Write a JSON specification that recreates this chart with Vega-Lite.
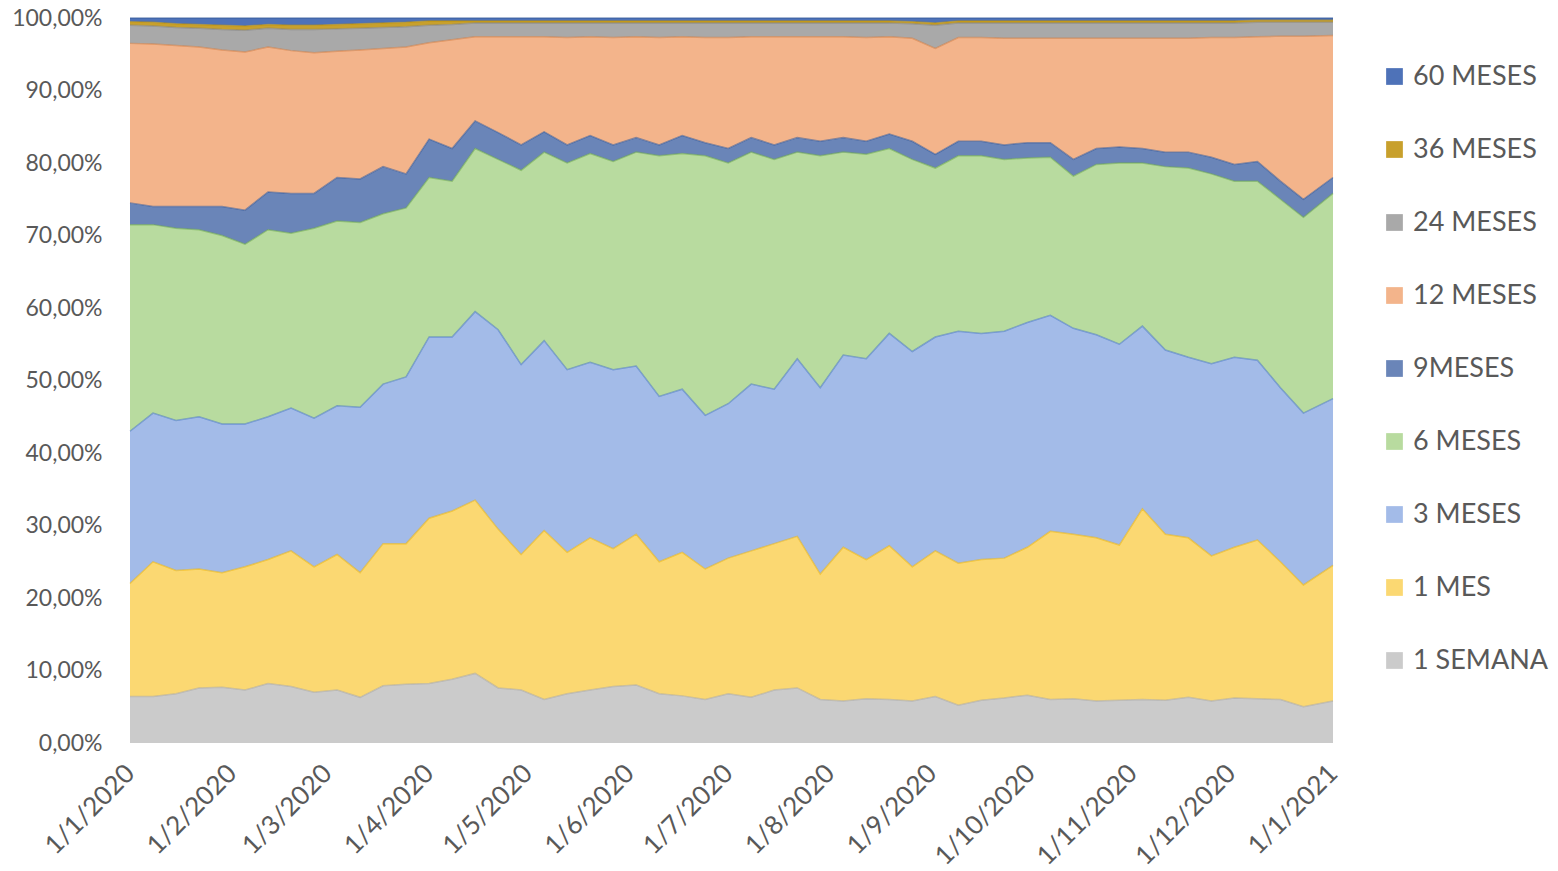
{
  "$schema": "https://vega.github.io/schema/vega-lite/v6.json",
  "width": 1203,
  "height": 725,
  "autosize": "none",
  "padding": {"left": 130, "top": 18, "right": 225, "bottom": 128},
  "background": "white",
  "config": {
    "view": {"stroke": null},
    "font": "Lato"
  },
  "data": {
    "values": [
      {"fecha": "2020-01-01", "1 SEMANA": 6.4, "1 MES": 15.6, "3 MESES": 21.0, "6 MESES": 28.5, "9MESES": 3.0, "12 MESES": 22.0, "24 MESES": 2.5, "36 MESES": 0.5, "60 MESES": 0.5},
      {"fecha": "2020-01-08", "1 SEMANA": 6.4, "1 MES": 18.6, "3 MESES": 20.5, "6 MESES": 26.0, "9MESES": 2.5, "12 MESES": 22.4, "24 MESES": 2.5, "36 MESES": 0.5, "60 MESES": 0.6},
      {"fecha": "2020-01-15", "1 SEMANA": 6.8, "1 MES": 17.0, "3 MESES": 20.7, "6 MESES": 26.5, "9MESES": 3.0, "12 MESES": 22.2, "24 MESES": 2.5, "36 MESES": 0.5, "60 MESES": 0.8},
      {"fecha": "2020-01-22", "1 SEMANA": 7.6, "1 MES": 16.4, "3 MESES": 21.0, "6 MESES": 25.8, "9MESES": 3.2, "12 MESES": 22.0, "24 MESES": 2.6, "36 MESES": 0.5, "60 MESES": 0.9},
      {"fecha": "2020-01-29", "1 SEMANA": 7.7, "1 MES": 15.8, "3 MESES": 20.5, "6 MESES": 26.0, "9MESES": 4.0, "12 MESES": 21.6, "24 MESES": 2.8, "36 MESES": 0.6, "60 MESES": 1.0},
      {"fecha": "2020-02-05", "1 SEMANA": 7.3, "1 MES": 17.0, "3 MESES": 19.7, "6 MESES": 24.8, "9MESES": 4.7, "12 MESES": 21.8, "24 MESES": 3.0, "36 MESES": 0.6, "60 MESES": 1.1},
      {"fecha": "2020-02-12", "1 SEMANA": 8.2, "1 MES": 17.1, "3 MESES": 19.7, "6 MESES": 25.8, "9MESES": 5.2, "12 MESES": 20.0, "24 MESES": 2.6, "36 MESES": 0.5, "60 MESES": 0.9},
      {"fecha": "2020-02-19", "1 SEMANA": 7.8, "1 MES": 18.7, "3 MESES": 19.7, "6 MESES": 24.1, "9MESES": 5.5, "12 MESES": 19.7, "24 MESES": 2.9, "36 MESES": 0.6, "60 MESES": 1.0},
      {"fecha": "2020-02-26", "1 SEMANA": 7.0, "1 MES": 17.3, "3 MESES": 20.5, "6 MESES": 26.2, "9MESES": 4.8, "12 MESES": 19.4, "24 MESES": 3.2, "36 MESES": 0.6, "60 MESES": 1.0},
      {"fecha": "2020-03-04", "1 SEMANA": 7.3, "1 MES": 18.7, "3 MESES": 20.5, "6 MESES": 25.5, "9MESES": 6.0, "12 MESES": 17.4, "24 MESES": 3.1, "36 MESES": 0.6, "60 MESES": 0.9},
      {"fecha": "2020-03-11", "1 SEMANA": 6.3, "1 MES": 17.2, "3 MESES": 22.8, "6 MESES": 25.5, "9MESES": 6.0, "12 MESES": 17.8, "24 MESES": 3.0, "36 MESES": 0.6, "60 MESES": 0.8},
      {"fecha": "2020-03-18", "1 SEMANA": 7.9, "1 MES": 19.6, "3 MESES": 22.0, "6 MESES": 23.5, "9MESES": 6.5, "12 MESES": 16.3, "24 MESES": 2.9, "36 MESES": 0.6, "60 MESES": 0.7},
      {"fecha": "2020-03-25", "1 SEMANA": 8.1, "1 MES": 19.4, "3 MESES": 23.0, "6 MESES": 23.3, "9MESES": 4.7, "12 MESES": 17.5, "24 MESES": 2.8, "36 MESES": 0.6, "60 MESES": 0.6},
      {"fecha": "2020-04-01", "1 SEMANA": 8.2, "1 MES": 22.8, "3 MESES": 25.0, "6 MESES": 22.0, "9MESES": 5.3, "12 MESES": 13.3, "24 MESES": 2.4, "36 MESES": 0.6, "60 MESES": 0.4},
      {"fecha": "2020-04-08", "1 SEMANA": 8.8, "1 MES": 23.2, "3 MESES": 24.0, "6 MESES": 21.5, "9MESES": 4.5, "12 MESES": 15.0, "24 MESES": 2.1, "36 MESES": 0.5, "60 MESES": 0.4},
      {"fecha": "2020-04-15", "1 SEMANA": 9.6, "1 MES": 23.9, "3 MESES": 26.0, "6 MESES": 22.5, "9MESES": 3.8, "12 MESES": 11.6, "24 MESES": 1.9, "36 MESES": 0.3, "60 MESES": 0.4},
      {"fecha": "2020-04-22", "1 SEMANA": 7.6, "1 MES": 21.9, "3 MESES": 27.5, "6 MESES": 23.5, "9MESES": 3.7, "12 MESES": 13.2, "24 MESES": 1.9, "36 MESES": 0.3, "60 MESES": 0.4},
      {"fecha": "2020-04-29", "1 SEMANA": 7.3, "1 MES": 18.7, "3 MESES": 26.2, "6 MESES": 26.8, "9MESES": 3.5, "12 MESES": 14.9, "24 MESES": 1.9, "36 MESES": 0.3, "60 MESES": 0.4},
      {"fecha": "2020-05-06", "1 SEMANA": 6.0, "1 MES": 23.3, "3 MESES": 26.2, "6 MESES": 26.0, "9MESES": 2.8, "12 MESES": 13.1, "24 MESES": 1.9, "36 MESES": 0.3, "60 MESES": 0.4},
      {"fecha": "2020-05-13", "1 SEMANA": 6.8, "1 MES": 19.5, "3 MESES": 25.2, "6 MESES": 28.5, "9MESES": 2.5, "12 MESES": 14.8, "24 MESES": 2.0, "36 MESES": 0.3, "60 MESES": 0.4},
      {"fecha": "2020-05-20", "1 SEMANA": 7.3, "1 MES": 21.0, "3 MESES": 24.2, "6 MESES": 28.8, "9MESES": 2.5, "12 MESES": 13.6, "24 MESES": 1.9, "36 MESES": 0.3, "60 MESES": 0.4},
      {"fecha": "2020-05-27", "1 SEMANA": 7.8, "1 MES": 19.0, "3 MESES": 24.7, "6 MESES": 28.7, "9MESES": 2.3, "12 MESES": 14.8, "24 MESES": 2.0, "36 MESES": 0.3, "60 MESES": 0.4},
      {"fecha": "2020-06-03", "1 SEMANA": 8.0, "1 MES": 20.8, "3 MESES": 23.2, "6 MESES": 29.5, "9MESES": 2.0, "12 MESES": 13.9, "24 MESES": 1.9, "36 MESES": 0.3, "60 MESES": 0.4},
      {"fecha": "2020-06-10", "1 SEMANA": 6.8, "1 MES": 18.2, "3 MESES": 22.8, "6 MESES": 33.2, "9MESES": 1.5, "12 MESES": 14.8, "24 MESES": 2.0, "36 MESES": 0.3, "60 MESES": 0.4},
      {"fecha": "2020-06-17", "1 SEMANA": 6.5, "1 MES": 19.8, "3 MESES": 22.5, "6 MESES": 32.5, "9MESES": 2.5, "12 MESES": 13.6, "24 MESES": 1.9, "36 MESES": 0.3, "60 MESES": 0.4},
      {"fecha": "2020-06-24", "1 SEMANA": 6.0, "1 MES": 18.0, "3 MESES": 21.2, "6 MESES": 35.8, "9MESES": 1.8, "12 MESES": 14.5, "24 MESES": 2.0, "36 MESES": 0.3, "60 MESES": 0.4},
      {"fecha": "2020-07-01", "1 SEMANA": 6.8, "1 MES": 18.7, "3 MESES": 21.3, "6 MESES": 33.2, "9MESES": 2.0, "12 MESES": 15.3, "24 MESES": 2.0, "36 MESES": 0.3, "60 MESES": 0.4},
      {"fecha": "2020-07-08", "1 SEMANA": 6.3, "1 MES": 20.2, "3 MESES": 23.0, "6 MESES": 32.0, "9MESES": 2.0, "12 MESES": 13.9, "24 MESES": 1.9, "36 MESES": 0.3, "60 MESES": 0.4},
      {"fecha": "2020-07-15", "1 SEMANA": 7.3, "1 MES": 20.2, "3 MESES": 21.3, "6 MESES": 31.7, "9MESES": 2.0, "12 MESES": 14.9, "24 MESES": 1.9, "36 MESES": 0.3, "60 MESES": 0.4},
      {"fecha": "2020-07-22", "1 SEMANA": 7.6, "1 MES": 20.9, "3 MESES": 24.5, "6 MESES": 28.5, "9MESES": 2.0, "12 MESES": 13.9, "24 MESES": 1.9, "36 MESES": 0.3, "60 MESES": 0.4},
      {"fecha": "2020-07-29", "1 SEMANA": 6.0, "1 MES": 17.3, "3 MESES": 25.7, "6 MESES": 32.0, "9MESES": 2.0, "12 MESES": 14.4, "24 MESES": 1.9, "36 MESES": 0.3, "60 MESES": 0.4},
      {"fecha": "2020-08-05", "1 SEMANA": 5.8, "1 MES": 21.2, "3 MESES": 26.5, "6 MESES": 28.0, "9MESES": 2.0, "12 MESES": 13.9, "24 MESES": 1.9, "36 MESES": 0.3, "60 MESES": 0.4},
      {"fecha": "2020-08-12", "1 SEMANA": 6.1, "1 MES": 19.2, "3 MESES": 27.7, "6 MESES": 28.2, "9MESES": 1.8, "12 MESES": 14.3, "24 MESES": 2.0, "36 MESES": 0.3, "60 MESES": 0.4},
      {"fecha": "2020-08-19", "1 SEMANA": 6.0, "1 MES": 21.2, "3 MESES": 29.3, "6 MESES": 25.5, "9MESES": 2.0, "12 MESES": 13.4, "24 MESES": 1.9, "36 MESES": 0.3, "60 MESES": 0.4},
      {"fecha": "2020-08-26", "1 SEMANA": 5.8, "1 MES": 18.5, "3 MESES": 29.7, "6 MESES": 26.5, "9MESES": 2.5, "12 MESES": 14.2, "24 MESES": 2.0, "36 MESES": 0.3, "60 MESES": 0.5},
      {"fecha": "2020-09-02", "1 SEMANA": 6.4, "1 MES": 20.1, "3 MESES": 29.5, "6 MESES": 23.3, "9MESES": 1.9, "12 MESES": 14.6, "24 MESES": 3.2, "36 MESES": 0.3, "60 MESES": 0.7},
      {"fecha": "2020-09-09", "1 SEMANA": 5.2, "1 MES": 19.6, "3 MESES": 32.0, "6 MESES": 24.2, "9MESES": 2.0, "12 MESES": 14.3, "24 MESES": 2.0, "36 MESES": 0.3, "60 MESES": 0.4},
      {"fecha": "2020-09-16", "1 SEMANA": 5.9, "1 MES": 19.4, "3 MESES": 31.2, "6 MESES": 24.5, "9MESES": 2.0, "12 MESES": 14.3, "24 MESES": 2.0, "36 MESES": 0.3, "60 MESES": 0.4},
      {"fecha": "2020-09-23", "1 SEMANA": 6.2, "1 MES": 19.3, "3 MESES": 31.3, "6 MESES": 23.7, "9MESES": 2.0, "12 MESES": 14.7, "24 MESES": 2.1, "36 MESES": 0.3, "60 MESES": 0.4},
      {"fecha": "2020-09-30", "1 SEMANA": 6.6, "1 MES": 20.4, "3 MESES": 31.0, "6 MESES": 22.7, "9MESES": 2.1, "12 MESES": 14.4, "24 MESES": 2.1, "36 MESES": 0.3, "60 MESES": 0.4},
      {"fecha": "2020-10-07", "1 SEMANA": 6.0, "1 MES": 23.2, "3 MESES": 29.8, "6 MESES": 21.8, "9MESES": 2.0, "12 MESES": 14.4, "24 MESES": 2.1, "36 MESES": 0.3, "60 MESES": 0.4},
      {"fecha": "2020-10-14", "1 SEMANA": 6.1, "1 MES": 22.7, "3 MESES": 28.4, "6 MESES": 21.0, "9MESES": 2.3, "12 MESES": 16.7, "24 MESES": 2.1, "36 MESES": 0.3, "60 MESES": 0.4},
      {"fecha": "2020-10-21", "1 SEMANA": 5.8, "1 MES": 22.5, "3 MESES": 28.0, "6 MESES": 23.5, "9MESES": 2.2, "12 MESES": 15.2, "24 MESES": 2.1, "36 MESES": 0.3, "60 MESES": 0.4},
      {"fecha": "2020-10-28", "1 SEMANA": 5.9, "1 MES": 21.4, "3 MESES": 27.7, "6 MESES": 25.0, "9MESES": 2.2, "12 MESES": 15.0, "24 MESES": 2.1, "36 MESES": 0.3, "60 MESES": 0.4},
      {"fecha": "2020-11-04", "1 SEMANA": 6.0, "1 MES": 26.3, "3 MESES": 25.2, "6 MESES": 22.5, "9MESES": 2.0, "12 MESES": 15.2, "24 MESES": 2.1, "36 MESES": 0.3, "60 MESES": 0.4},
      {"fecha": "2020-11-11", "1 SEMANA": 5.9, "1 MES": 22.9, "3 MESES": 25.4, "6 MESES": 25.3, "9MESES": 2.0, "12 MESES": 15.7, "24 MESES": 2.1, "36 MESES": 0.3, "60 MESES": 0.4},
      {"fecha": "2020-11-18", "1 SEMANA": 6.3, "1 MES": 22.0, "3 MESES": 24.9, "6 MESES": 26.1, "9MESES": 2.2, "12 MESES": 15.7, "24 MESES": 2.1, "36 MESES": 0.3, "60 MESES": 0.4},
      {"fecha": "2020-11-25", "1 SEMANA": 5.8, "1 MES": 20.0, "3 MESES": 26.5, "6 MESES": 26.2, "9MESES": 2.3, "12 MESES": 16.5, "24 MESES": 2.0, "36 MESES": 0.3, "60 MESES": 0.4},
      {"fecha": "2020-12-02", "1 SEMANA": 6.2, "1 MES": 20.8, "3 MESES": 26.2, "6 MESES": 24.3, "9MESES": 2.3, "12 MESES": 17.5, "24 MESES": 2.0, "36 MESES": 0.3, "60 MESES": 0.4},
      {"fecha": "2020-12-09", "1 SEMANA": 6.1, "1 MES": 21.9, "3 MESES": 24.8, "6 MESES": 24.7, "9MESES": 2.7, "12 MESES": 17.2, "24 MESES": 2.0, "36 MESES": 0.3, "60 MESES": 0.3},
      {"fecha": "2020-12-16", "1 SEMANA": 6.0, "1 MES": 19.0, "3 MESES": 24.0, "6 MESES": 26.0, "9MESES": 2.5, "12 MESES": 20.0, "24 MESES": 1.9, "36 MESES": 0.3, "60 MESES": 0.3},
      {"fecha": "2020-12-23", "1 SEMANA": 5.0, "1 MES": 16.8, "3 MESES": 23.7, "6 MESES": 27.0, "9MESES": 2.5, "12 MESES": 22.5, "24 MESES": 1.9, "36 MESES": 0.3, "60 MESES": 0.3},
      {"fecha": "2021-01-01", "1 SEMANA": 5.8, "1 MES": 18.7, "3 MESES": 23.0, "6 MESES": 28.3, "9MESES": 2.2, "12 MESES": 19.6, "24 MESES": 1.8, "36 MESES": 0.3, "60 MESES": 0.3}
    ]
  },
  "transform": [
    {"fold": ["1 SEMANA", "1 MES", "3 MESES", "6 MESES", "9MESES", "12 MESES", "24 MESES", "36 MESES", "60 MESES"], "as": ["serie", "valor"]},
    {"calculate": "indexof(['1 SEMANA','1 MES','3 MESES','6 MESES','9MESES','12 MESES','24 MESES','36 MESES','60 MESES'], datum.serie)", "as": "orden"}
  ],
  "encoding": {
    "x": {
      "field": "fecha",
      "type": "temporal",
      "scale": {"type": "utc", "domain": [{"year": 2020, "month": 1, "date": 1, "utc": true}, {"year": 2021, "month": 1, "date": 1, "utc": true}], "nice": false},
      "axis": {
        "title": null,
        "format": "%-d/%-m/%Y",
        "tickCount": {"interval": "month", "step": 1},
        "labelAngle": -45,
        "labelAlign": "right",
        "labelBaseline": "middle",
        "labelFontSize": 26,
        "labelColor": "#595959",
        "labelPadding": 26,
        "ticks": false,
        "domain": false,
        "grid": false,
        "labelOverlap": false,
        "labelFlush": false
      }
    },
    "y": {
      "field": "valor",
      "type": "quantitative",
      "stack": "zero",
      "scale": {"domain": [0, 100], "nice": false},
      "axis": {
        "title": null,
        "values": [0, 10, 20, 30, 40, 50, 60, 70, 80, 90, 100],
        "labelExpr": "replace(format(datum.value, '.2f'), '.', ',') + '%'",
        "labelFontSize": 23,
        "labelColor": "#595959",
        "labelPadding": 28,
        "ticks": false,
        "tickSize": 0,
        "domain": false,
        "grid": false
      }
    },
    "order": {"field": "orden", "type": "quantitative"}
  },
  "layer": [
    {
      "mark": {"type": "area", "interpolate": "linear"},
      "encoding": {
        "color": {
          "field": "serie",
          "type": "nominal",
          "scale": {
            "domain": ["60 MESES", "36 MESES", "24 MESES", "12 MESES", "9MESES", "6 MESES", "3 MESES", "1 MES", "1 SEMANA"],
            "range": ["#4e72b8", "#c8a02c", "#a9a9a9", "#f3b48b", "#6a85b8", "#b8db9f", "#a3bbe8", "#fbd872", "#cbcbcb"]
          },
          "legend": {
            "title": null,
            "orient": "none",
            "legendX": 1251,
            "legendY": 45,
            "padding": 0,
            "symbolType": "square",
            "symbolSize": 280,
            "symbolStrokeWidth": 0,
            "labelFontSize": 27,
            "labelColor": "#595959",
            "labelOffset": 5,
            "rowPadding": 45,
            "labelLimit": 300
          }
        }
      }
    },
    {
      "mark": {"type": "line", "interpolate": "linear", "strokeWidth": 1.5, "opacity": 0.55},
      "encoding": {
        "color": {
          "field": "serie",
          "type": "nominal",
          "scale": {
            "domain": ["60 MESES", "36 MESES", "24 MESES", "12 MESES", "9MESES", "6 MESES", "3 MESES", "1 MES", "1 SEMANA"],
            "range": ["#2f5597", "#bf9000", "#7f7f7f", "#d57a3c", "#2f5597", "#70ad47", "#4472c4", "#f0b400", "#a5a5a5"]
          },
          "legend": null
        }
      }
    }
  ],
  "resolve": {"scale": {"color": "independent"}}
}
